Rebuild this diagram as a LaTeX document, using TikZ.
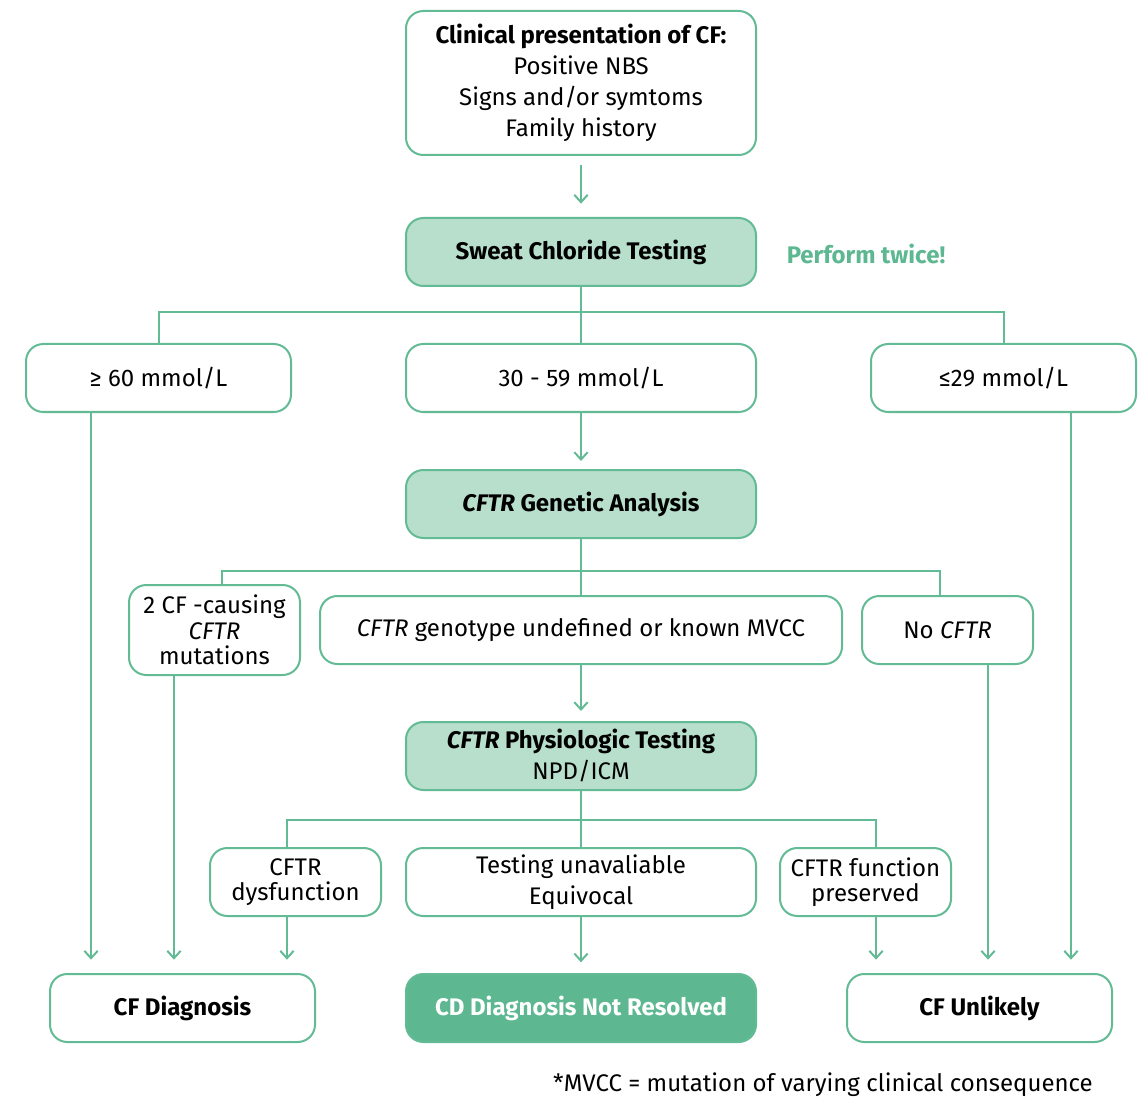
\documentclass[tikz,border=0pt]{standalone}
\usepackage{fontspec}
\setmainfont{Fira Sans}
\usetikzlibrary{arrows.meta}
\definecolor{gline}{RGB}{98,187,148}
\definecolor{gfill}{RGB}{184,223,203}
\definecolor{gdark}{RGB}{93,184,145}
\newcommand{\fsz}{\fontsize{18}{23.25}\selectfont}
\newcommand{\fszt}{\fontsize{18}{19.2}\selectfont}
\begin{document}
\begin{tikzpicture}[x=0.75pt,y=-0.75pt,
  box/.style={draw=gline, line width=1.5pt, rounded corners=13pt, fill=white,
    align=center, inner sep=0pt, text=black, font=\fsz},
  tight/.style={font=\fszt},
  lite/.style={box, fill=gfill},
  dark/.style={box, fill=gdark, text=white},
  w350/.style={minimum width=262.5pt, minimum height=51pt},
  w265/.style={minimum width=198.75pt, minimum height=51pt},
  w171/.style={minimum width=128.25pt, minimum height=51pt},
  conn/.style={draw=gline, line width=1.5pt},
  arr/.style={conn, -{Straight Barb[length=5.5pt,width=10pt]}, shorten >=10pt}]
\useasboundingbox (0,0) rectangle (1143,1098);

\node[box, w350, minimum height=108pt] (clin) at (581,83)
  {\textbf{Clinical presentation of CF:}\\Positive NBS\\Signs and/or symtoms\\Family history};
\node[lite, w350] (sweat) at (581,252) {\textbf{Sweat Chloride Testing}};
\node[text=gdark, font=\fsz\bfseries] (twice) at (866,254) {Perform twice!};

\node[box, w265] (hi) at (158.5,378) {≥ 60 mmol/L};
\node[box, w350] (mid) at (581,378) {30 - 59 mmol/L};
\node[box, w265] (lo) at (1003.5,378) {≤29 mmol/L};

\node[lite, w350] (gen) at (581,504) {\textbf{\textit{CFTR} Genetic Analysis}};

\node[box, tight, w171, minimum height=67.5pt] (two) at (214.5,630) {2 CF -causing\\\textit{CFTR}\\mutations};
\node[box, minimum width=391.5pt, minimum height=51pt] (undef) at (581,630) {\textit{CFTR} genotype undefined or known MVCC};
\node[box, w171] (none) at (947.5,630) {No \textit{CFTR}};

\node[lite, w350] (phys) at (581,756) {\textbf{\textit{CFTR} Physiologic Testing}\\NPD/ICM};

\node[box, tight, w171] (dys) at (295.5,882) {CFTR\\dysfunction};
\node[box, w350] (equiv) at (581,882) {Testing unavaliable\\Equivocal};
\node[box, tight, w171] (pres) at (865.5,882) {CFTR function\\preserved};

\node[box, w265] (diag) at (182.5,1008) {\textbf{CF Diagnosis}};
\node[dark, w350] (nres) at (581,1008) {\textbf{CD Diagnosis Not Resolved}};
\node[box, w265] (unl) at (979.5,1008) {\textbf{CF Unlikely}};

\node[anchor=east, font=\fsz, inner sep=0pt] (foot) at (1093,1085) {*MVCC = mutation of varying clinical consequence};

% top arrow
\draw[arr, shorten <=7pt] (clin) -- (sweat);
% branch 1
\coordinate (b1) at (581,312);
\draw[conn] (sweat) -- (b1);
\draw[conn] (hi.north) |- (b1) -| (lo.north);
\draw[conn] (b1) -- (mid.north);
\draw[arr, shorten >=6pt] (mid) -- (gen);
% branch 2
\coordinate (b2) at (581,571);
\draw[conn] (gen) -- (b2);
\draw[conn] ([xshift=5.6pt]two.north) |- (b2) -| ([xshift=-5.6pt]none.north);
\draw[conn] (b2) -- (undef.north);
\draw[arr, shorten >=7.5pt] (undef) -- (phys);
% branch 3
\coordinate (b3) at (581,820);
\draw[conn] (phys) -- (b3);
\draw[conn] ([xshift=-6.4pt]dys.north) |- (b3) -| ([xshift=7.9pt]pres.north);
\draw[conn] (b3) -- (equiv.north);
% to final boxes
\draw[arr] ([xshift=-50.6pt]hi.south) -- ([xshift=-50.6pt]hi.south |- diag.north);
\draw[arr] ([xshift=-30.4pt]two.south) -- ([xshift=-30.4pt]two.south |- diag.north);
\draw[arr] ([xshift=-6.4pt]dys.south) -- ([xshift=-6.4pt]dys.south |- diag.north);
\draw[arr, shorten >=8pt] (equiv) -- (nres);
\draw[arr] ([xshift=7.9pt]pres.south) -- ([xshift=7.9pt]pres.south |- unl.north);
\draw[arr] ([xshift=30.4pt]none.south) -- ([xshift=30.4pt]none.south |- unl.north);
\draw[arr] ([xshift=50.6pt]lo.south) -- ([xshift=50.6pt]lo.south |- unl.north);
\end{tikzpicture}
\end{document}
